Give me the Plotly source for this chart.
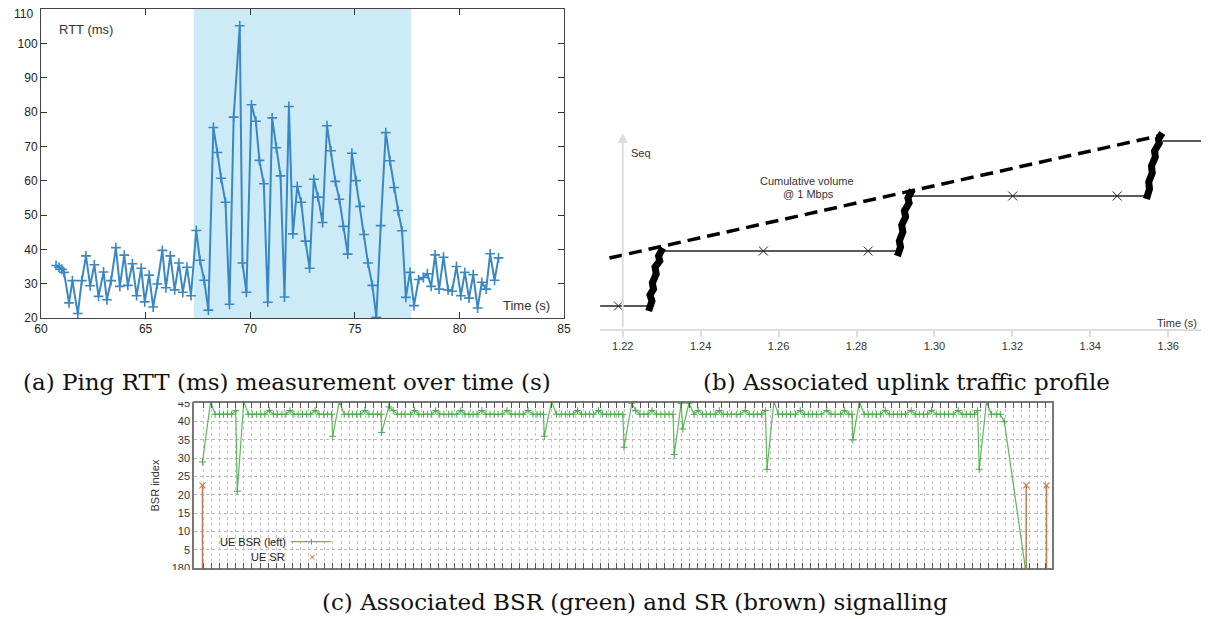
import plotly.graph_objects as go

# the page body adds an 8 px margin, so the figure is drawn 8 px in from the window corner
PAGE_PAD = 8
W, H = 1209 - PAGE_PAD, 619 - PAGE_PAD

# ---- (a) Ping RTT ----
rtt_time = [60.72, 60.86, 61.0, 61.1, 61.34, 61.5, 61.76, 61.95, 62.15, 62.35, 62.55, 62.75,
            62.99, 63.15, 63.35, 63.58, 63.77, 63.98, 64.15, 64.37, 64.57, 64.79, 64.96, 65.17,
            65.36, 65.56, 65.8, 65.97, 66.18, 66.39, 66.59, 66.78, 66.98, 67.17, 67.42, 67.6,
            67.8, 68.0, 68.24, 68.43, 68.61, 68.82, 69.01, 69.21, 69.5, 69.63, 69.82, 70.06,
            70.27, 70.44, 70.65, 70.84, 71.05, 71.25, 71.45, 71.64, 71.85, 72.04, 72.25, 72.44,
            72.64, 72.84, 73.04, 73.24, 73.46, 73.67, 73.86, 74.07, 74.26, 74.45, 74.66, 74.86,
            75.06, 75.25, 75.44, 75.63, 75.84, 76.03, 76.24, 76.48, 76.68, 76.88, 77.07, 77.26,
            77.44, 77.64, 77.83, 78.05, 78.28, 78.47, 78.65, 78.84, 79.03, 79.24, 79.46, 79.65,
            79.86, 80.07, 80.26, 80.46, 80.66, 80.87, 81.07, 81.28, 81.47, 81.68, 81.87]
rtt_ms = [35.3, 34.8, 34.2, 33.3, 24.4, 30.9, 21.3, 30.9, 38.1, 29.4, 35.5, 26.3,
          33.4, 25.3, 30.9, 40.5, 29.2, 38.3, 29.5, 35.8, 26.5, 34.5, 24.7, 32.5,
          23.2, 29.9, 39.7, 28.8, 38.1, 28.2, 36.0, 27.5, 34.8, 26.5, 45.5, 36.8,
          31.0, 22.3, 75.5, 68.2, 60.7, 53.7, 24.0, 78.5, 105.1, 36.0, 27.5, 82.1,
          77.3, 65.9, 59.1, 24.6, 78.3, 69.6, 61.4, 26.1, 81.6, 44.5, 58.3, 53.7,
          42.4, 34.5, 60.4, 55.2, 47.8, 76.0, 68.7, 59.8, 54.6, 46.7, 38.6, 68.0,
          60.0, 52.5, 44.3, 36.0, 29.5, 20.2, 46.9, 74.0, 65.8, 58.0, 51.3, 45.4,
          26.0, 33.3, 23.6, 31.2, 31.8, 32.9, 29.2, 38.4, 28.4, 37.7, 28.2, 27.8,
          35.0, 26.5, 33.3, 25.8, 32.6, 22.9, 30.4, 28.4, 38.7, 31.0, 37.5]
shade_start, shade_end = 67.3, 77.7
a_yticks = [20, 30, 40, 50, 60, 70, 80, 90, 100]

# ---- (b) uplink traffic profile ----
volume_t = [1.2166, 1.3574]
volume_seq = [71, 193]
step_t = [1.2142, 1.2270, None, 1.2303, 1.2906, None, 1.2937, 1.3545, None, 1.3586, 1.3689]
step_seq = [23, 23, None, 78, 78, None, 133, 133, None, 188, 188]
burst_t = [1.22665, 1.22750, 1.22700, 1.22790, 1.22760, 1.22860, 1.22830, 1.22950, 1.22920, 1.23030, None,
           1.29050, 1.29130, 1.29100, 1.29190, 1.29160, 1.29260, 1.29230, 1.29350, 1.29320, 1.29430, None,
           1.35440, 1.35520, 1.35500, 1.35590, 1.35570, 1.35670, 1.35650, 1.35770, 1.35750, 1.35850]
burst_seq = [18, 28, 34, 40, 46, 55, 62, 68, 73, 81, None,
             73, 82, 88, 97, 104, 112, 118, 126, 131, 139, None,
             130, 140, 147, 156, 163, 172, 178, 186, 190, 196]
sr_marks_t = [1.2189, 1.2561, 1.2830, 1.3201, 1.3469]
sr_marks_seq = [23, 78, 78, 133, 133]
b_ticks = [1.22, 1.24, 1.26, 1.28, 1.30, 1.32, 1.34, 1.36]

# ---- (c) BSR / SR signalling ----
bsr_x = [-0.1, 0.9, 1.45, 2.0, 2.5, 3.0, 3.5, 4.0, 4.2, 5.0, 5.55, 6.05, 6.55, 7.1, 7.6, 8.15,
         8.65, 9.15, 9.7, 10.2, 10.7, 11.2, 11.7, 12.25, 12.75, 13.25, 13.8, 14.3, 14.85, 15.35,
         15.85, 15.97, 16.8, 17.4, 17.9, 18.4, 18.9, 19.4, 19.95, 20.45, 20.95, 21.5, 21.95, 22.02,
         22.9, 23.45, 23.95, 24.45, 24.9, 25.6, 26.1, 26.6, 27.2, 27.7, 28.2, 28.7, 29.2, 29.7,
         30.3, 30.7, 31.3, 31.8, 32.3, 32.8, 33.3, 33.8, 34.4, 34.9, 35.4, 35.9, 36.4, 36.9,
         37.5, 38.0, 38.5, 39.0, 39.5, 40.1, 40.7, 41.2, 41.6, 42.0, 42.1, 43.0, 43.6, 44.2,
         44.7, 45.2, 45.7, 46.2, 46.7, 47.2, 47.7, 48.2, 48.8, 49.3, 49.8, 50.3, 50.8, 51.3,
         51.8, 51.95, 52.9, 53.4, 53.9, 54.4, 54.9, 55.4, 55.97, 56.5, 57.0, 57.5, 58.0, 58.15,
         59.0, 59.2, 59.96, 60.6, 61.1, 61.65, 62.1, 62.6, 63.2, 63.7, 64.2, 64.7, 65.2, 65.8,
         66.3, 66.9, 67.4, 67.9, 68.4, 68.9, 69.4, 69.6, 70.45, 71.0, 71.5, 72.0, 72.5, 73.1,
         73.7, 74.2, 74.7, 75.2, 75.7, 76.3, 77.0, 77.5, 78.0, 78.7, 79.2, 79.7, 80.1, 80.2,
         81.0, 81.6, 82.1, 82.6, 83.1, 83.6, 84.2, 84.7, 85.2, 85.7, 86.2, 86.7, 87.4, 87.9,
         88.4, 88.9, 89.4, 89.9, 90.5, 91.0, 91.5, 92.0, 92.6, 93.2, 93.7, 94.2, 94.7, 95.2,
         95.6, 95.8, 96.7, 97.3, 97.9, 98.4, 98.9, 101.5]
bsr_idx = [29, 45.5, 42, 42, 42, 42, 42, 43, 21, 45.5, 42, 42, 42, 42, 42, 43,
           42, 42, 42, 42, 43, 42, 42, 42, 42, 42, 43, 42, 42, 42,
           42, 36, 45.5, 42, 42, 42, 42, 42, 43, 42, 42, 42, 42, 37,
           44, 43, 42, 42, 42, 42, 43, 42, 42, 42, 42, 43, 42, 42,
           42, 42, 42, 43, 42, 42, 42, 42, 43, 42, 42, 42, 42, 42,
           43, 42, 42, 42, 42, 43, 42, 42, 42, 42, 36, 45.5, 42, 42,
           42, 42, 42, 43, 42, 42, 42, 42, 43, 42, 42, 42, 42, 42,
           42, 33, 45, 43, 42, 42, 42, 43, 42, 42, 42, 42, 42, 31,
           45, 38, 45, 42, 43, 42, 42, 42, 42, 43, 42, 42, 42, 42,
           42, 43, 42, 42, 42, 42, 43, 27, 45.5, 42, 42, 42, 42, 42,
           43, 42, 42, 42, 42, 42, 43, 42, 42, 42, 43, 42, 42, 35,
           45.5, 42, 42, 42, 42, 42, 43, 42, 42, 42, 42, 42, 43, 42,
           42, 42, 42, 43, 42, 42, 42, 42, 42, 43, 42, 42, 42, 42,
           43, 27, 45.5, 42, 42, 42, 40, 0]
sr_x = [-0.1, 101.6, 104.1]
sr_idx = [22.6, 22.6, 22.6]
c_ticks = list(range(0, 105))
c_yticks = [0, 5, 10, 15, 20, 25, 30, 35, 40, 45]
c_yticktext = ['180', '5', '10', '15', '20', '25', '30', '35', '40', '45']


def px(x):
    return (x - PAGE_PAD) / W


def py(y):
    return 1 - (y - PAGE_PAD) / H


SANS = 'Liberation Sans'
SERIF = 'DejaVu Serif'
BLUE = '#3a87c5'
GREEN = '#5cb85c'
BROWN = '#c47a4c'

fig = go.Figure()

# (a)
fig.add_trace(go.Scatter(
    x=rtt_time, y=rtt_ms, mode='lines+markers', xaxis='x', yaxis='y',
    line=dict(color=BLUE, width=2),
    marker=dict(symbol='cross-thin', size=7, line=dict(color=BLUE, width=1.6)),
    showlegend=False))

# (b)
fig.add_trace(go.Scatter(
    x=volume_t, y=volume_seq, mode='lines', xaxis='x2', yaxis='y2',
    line=dict(color='black', width=3.5, dash='13px,7px'), showlegend=False))
fig.add_trace(go.Scatter(
    x=step_t, y=step_seq, mode='lines', xaxis='x2', yaxis='y2',
    line=dict(color='#222', width=1.3), showlegend=False))
fig.add_trace(go.Scatter(
    x=burst_t, y=burst_seq, mode='lines', xaxis='x2', yaxis='y2',
    line=dict(color='black', width=7), showlegend=False))
fig.add_trace(go.Scatter(
    x=sr_marks_t, y=sr_marks_seq, mode='markers', xaxis='x2', yaxis='y2',
    marker=dict(symbol='x-thin', size=9, line=dict(color='#222', width=1)),
    showlegend=False))

# (c)
fig.add_trace(go.Scatter(
    x=bsr_x, y=bsr_idx, mode='lines+markers', xaxis='x3', yaxis='y3',
    line=dict(color=GREEN, width=1.2),
    marker=dict(symbol='cross-thin', size=5, line=dict(color='#4aa84a', width=1)),
    showlegend=False))
fig.add_trace(go.Scatter(
    x=sr_x, y=sr_idx, mode='markers', xaxis='x3', yaxis='y3',
    marker=dict(symbol='x-thin', size=6, line=dict(color=BROWN, width=1.2)),
    error_y=dict(type='data', symmetric=False, array=[0, 0, 0], arrayminus=sr_idx,
                 color=BROWN, thickness=1.5, width=0),
    showlegend=False))

tickfont = dict(family=SANS, size=12, color='#222')
fig.update_layout(
    width=W, height=H, margin=dict(l=0, r=0, t=0, b=0),
    paper_bgcolor='white', plot_bgcolor='white',
    xaxis=dict(domain=[px(41), px(564)], range=[60, 85], anchor='y', automargin=False,
               tickvals=[60, 65, 70, 75, 80, 85], ticks='inside', ticklen=6,
               tickcolor='#333', showline=True, linecolor='#444', linewidth=1,
               mirror='allticks', showgrid=False, zeroline=False, tickfont=tickfont,
               ticklabeloverflow='allow'),
    yaxis=dict(domain=[py(318), py(9)], range=[20, 110], anchor='x', automargin=False,
               tickvals=a_yticks, ticks='inside', ticklen=6, tickcolor='#333',
               showline=True, linecolor='#444', linewidth=1, mirror='allticks',
               showgrid=False, zeroline=False, tickfont=tickfont,
               ticklabeloverflow='allow'),
    xaxis2=dict(domain=[px(600), px(1203)], range=[1.21417, 1.36893], anchor='y2',
                automargin=False, tickvals=b_ticks, ticktext=['%.2f' % v for v in b_ticks],
                ticks='outside', ticklen=6, tickwidth=2, tickcolor='#dddddd',
                showline=True, linecolor='#dddddd', linewidth=2, showgrid=False,
                zeroline=False, tickfont=dict(family=SANS, size=11, color='#333')),
    yaxis2=dict(domain=[py(329), py(129)], range=[0, 200], anchor='x2', visible=False,
                automargin=False),
    xaxis3=dict(domain=[px(194), px(1051.7)], range=[-1.15, 104.75], anchor='y3',
                automargin=False, tickvals=c_ticks, showticklabels=False, ticks='inside',
                ticklen=6, tickcolor='#555', showline=True, linecolor='#777', linewidth=1.5,
                mirror='allticks', showgrid=True, gridcolor='#c4c4c4', griddash='dot',
                zeroline=False),
    yaxis3=dict(domain=[py(568.3), py(402.7)], range=[0, 45.15], anchor='x3',
                automargin=False, tickvals=c_yticks, ticktext=c_yticktext, ticks='',
                showline=True, linecolor='#777', linewidth=1.5, mirror=True, showgrid=True,
                gridcolor='#b8b8b8', griddash='dot', zeroline=False,
                tickfont=dict(family=SANS, size=11, color='#333'),
                ticklabeloverflow='allow',
                title=dict(text='BSR index', standoff=10,
                           font=dict(family=SANS, size=11, color='#333'))),
)

# highlighted period in (a)
fig.add_shape(type='rect', xref='x', yref='y domain', x0=shade_start, x1=shade_end,
              y0=0, y1=1, fillcolor='#cdebf7', line=dict(width=0), layer='below')

# legend of (c), drawn gnuplot-style (text left of sample)
fig.add_shape(type='line', xref='paper', yref='paper', x0=px(291), x1=px(331),
              y0=py(541.7), y1=py(541.7), line=dict(color=GREEN, width=1.2))
fig.add_shape(type='line', xref='paper', yref='paper', x0=px(311.5), x1=px(311.5),
              y0=py(539), y1=py(544.5), line=dict(color='#4aa84a', width=1))

# white masks that crop the clipped tick labels of (c)
fig.add_shape(type='rect', xref='paper', yref='paper', x0=px(140), x1=px(193),
              y0=py(402), y1=py(396), fillcolor='white', line=dict(width=0), layer='above')
fig.add_shape(type='rect', xref='paper', yref='paper', x0=px(140), x1=px(193),
              y0=py(577), y1=py(570), fillcolor='white', line=dict(width=0), layer='above')

# y-axis arrow of (b)
fig.add_annotation(x=1.22, y=196, ax=1.22, ay=0, xref='x2', yref='y2', axref='x2', ayref='y2',
                   text='', showarrow=True, arrowhead=2, arrowsize=1, arrowwidth=2,
                   arrowcolor='#dddddd')

small = dict(family=SANS, size=13, color='#333')
caption = dict(family=SERIF, size=23, color='#111')
notes = [
    # top tick label of (a), nudged down so it stays inside the page
    (35, 14, '110', 'right', tickfont),
    (57, 29, 'RTT (ms)', 'left', small),
    (552, 305, 'Time (s)', 'right', small),
    (629, 153, 'Seq', 'left', dict(family=SANS, size=11, color='#333')),
    (807, 181, 'Cumulative volume', 'center', dict(family=SANS, size=11, color='#333')),
    (808, 194, '@ 1 Mbps', 'center', dict(family=SANS, size=11, color='#333')),
    (1199, 323, 'Time (s)', 'right', dict(family=SANS, size=11, color='#333')),
    (288, 541.7, 'UE BSR (left)', 'right', dict(family=SANS, size=11, color='#222')),
    (287, 556.7, 'UE SR', 'right', dict(family=SANS, size=11, color='#222')),
    (312, 556.7, '×', 'center', dict(family=SANS, size=11, color=BROWN)),
    (287, 382, '(a) Ping RTT (ms) measurement over time (s)', 'center', caption),
    (906, 382, '(b) Associated uplink traffic profile', 'center', caption),
    (635, 602, '(c) Associated BSR (green) and SR (brown) signalling', 'center', caption),
]
for x, y, text, anchor, font in notes:
    fig.add_annotation(x=px(x), y=py(y), xref='paper', yref='paper', text=text,
                       showarrow=False, xanchor=anchor, yanchor='middle', font=font)

fig.write_html("out.html")
